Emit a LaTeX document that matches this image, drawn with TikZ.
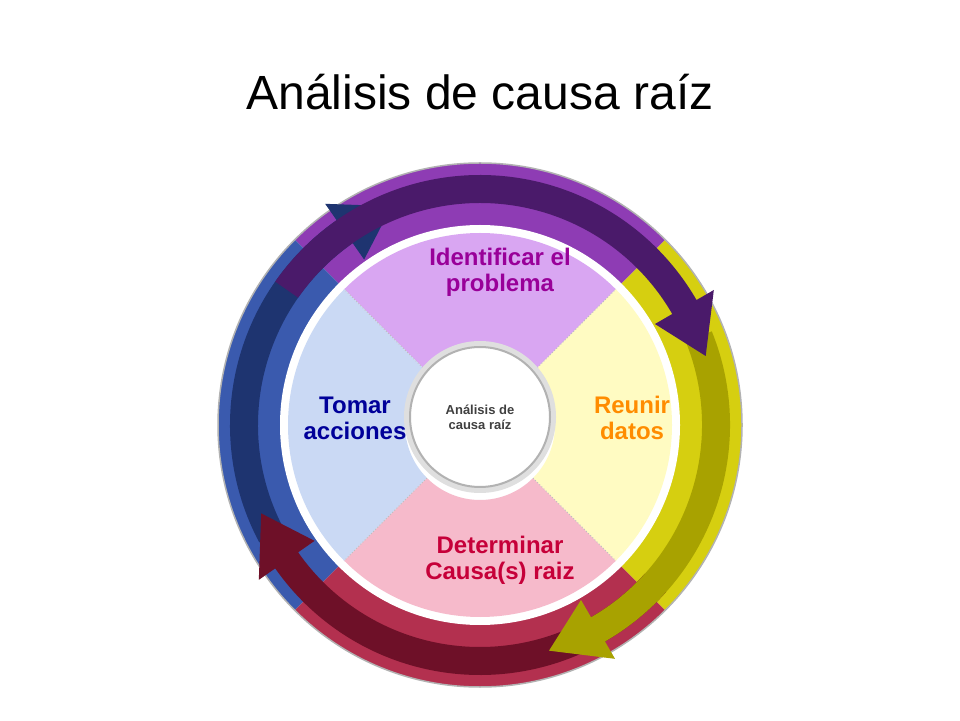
\documentclass[tikz,border=0pt]{standalone}
\usepackage{fontspec}
\setmainfont{Liberation Sans}
\usetikzlibrary{positioning}
\definecolor{ringpurple}{HTML}{8E3CB4}
\definecolor{ringyellow}{HTML}{D6CF10}
\definecolor{ringred}{HTML}{B3304F}
\definecolor{ringblue}{HTML}{3A5AAE}
\definecolor{arrpurple}{HTML}{4A1A6A}
\definecolor{arryellow}{HTML}{A8A200}
\definecolor{arrred}{HTML}{6E1028}
\definecolor{arrblue}{HTML}{1E3470}
\definecolor{quadpurple}{HTML}{D9A6F2}
\definecolor{quadyellow}{HTML}{FFFBC2}
\definecolor{quadred}{HTML}{F6BACB}
\definecolor{quadblue}{HTML}{CAD9F4}
\newcommand{\ringarrow}[3]{%
  \fill[#3] (#1:250) arc[start angle=#1, end angle=#2, radius=250]
    -- (#2:270) -- ({#2-13}:236) -- (#2:202) -- (#2:222)
    arc[start angle=#2, end angle=#1, radius=222] -- cycle;}
\newcommand{\quadrant}[3]{%
  \fill[#3] (#1:75) -- (#1:192) arc[start angle=#1, end angle=#2, radius=192]
    -- (#2:75) arc[start angle=#2, end angle=#1, radius=75] -- cycle;}
\tikzset{
  steplabel/.style={font=\bfseries\fontsize{24}{26}\selectfont, align=center},
}
\begin{document}
\begin{tikzpicture}[x=1pt,y=1pt]
  \useasboundingbox[fill=white] (0,0) rectangle (960,720);
  \node (title) at (480,628) {\fontsize{48}{52}\selectfont Análisis de causa raíz};

  \begin{scope}[shift={(480,295)}]
    % outer ring
    \fill[ringpurple] (0,0) -- (45:262) arc[start angle=45, end angle=135, radius=262] -- cycle;
    \fill[ringblue] (0,0) -- (135:262) arc[start angle=135, end angle=225, radius=262] -- cycle;
    \fill[ringred] (0,0) -- (225:262) arc[start angle=225, end angle=315, radius=262] -- cycle;
    \fill[ringyellow] (0,0) -- (-45:262) arc[start angle=-45, end angle=45, radius=262] -- cycle;
    \draw[gray!60, line width=1.5] (0,0) circle[radius=262];
    \fill[white] (0,0) circle[radius=200];

    % arrows
    \ringarrow{-152}{-235}{arrblue}
    \ringarrow{-42}{-145}{arrred}
    \ringarrow{22}{-60}{arryellow}
    \ringarrow{145}{30}{arrpurple}

    % quadrants
    \quadrant{45}{135}{quadpurple}
    \quadrant{135}{225}{quadblue}
    \quadrant{225}{315}{quadred}
    \quadrant{-45}{45}{quadyellow}
    \foreach \a in {45,135,225,315}
      \draw[gray!50, dotted, line width=1] (\a:75) -- (\a:192);

    % centre
    \fill[gray!25] (0,8) circle[radius=76];
    \node[circle, fill=white, draw=gray!60, line width=2, minimum size=140,
      font=\bfseries\fontsize{13}{15}\selectfont, text=black!75, align=center]
      (centre) at (0,8) {Análisis de\\causa raíz};
  \end{scope}

  \node[steplabel, text=violet!80!magenta] (identify) at (500,448) {Identificar el\\problema};
  \node[steplabel, text=orange!90!yellow] (gather) at (632,302) {Reunir\\datos};
  \node[steplabel, text=purple!90!red] (determine) at (500,160) {Determinar\\Causa(s) raiz};
  \node[steplabel, text=blue!60!black] (act) at (355,302) {Tomar\\acciones};
\end{tikzpicture}
\end{document}
